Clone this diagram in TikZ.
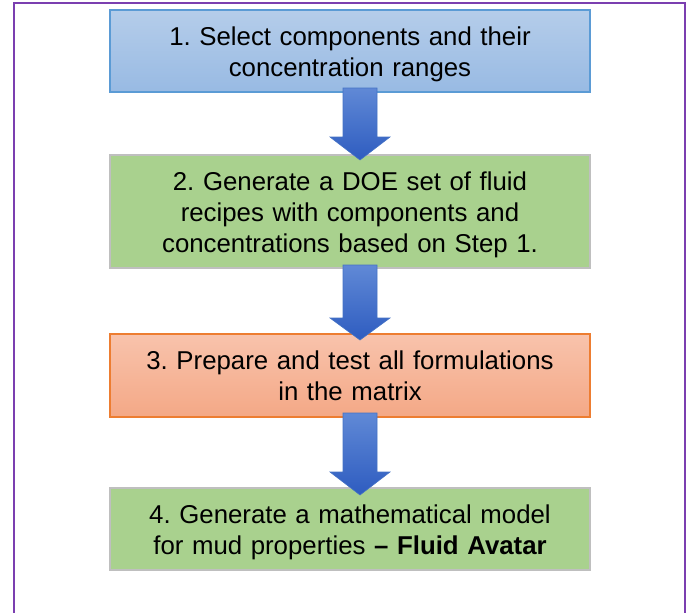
\documentclass[tikz,border=0pt]{standalone}
\usepackage{fontspec}
\setmainfont{Liberation Sans}
\frenchspacing
\begin{document}
\begin{tikzpicture}[x=1pt,y=-1pt]
\definecolor{frame}{HTML}{7B3FB0}
\definecolor{bluetop}{HTML}{B5CDEA}
\definecolor{bluebot}{HTML}{98BAE3}
\definecolor{blueedge}{HTML}{5B9BD5}
\definecolor{greenfill}{HTML}{A9D18E}
\definecolor{greyedge}{HTML}{BFBFBF}
\definecolor{orangetop}{HTML}{F8C3AC}
\definecolor{orangebot}{HTML}{F4A886}
\definecolor{orangeedge}{HTML}{ED7D31}
\definecolor{arrowtop}{HTML}{6089D6}
\definecolor{arrowbot}{HTML}{2E5CC0}
\definecolor{arrowedge}{HTML}{4472C4}
\tikzset{
  stepbox/.style={minimum width=480pt, inner sep=0pt, line width=1.2pt},
  steptext/.style={text width=470pt, align=center, inner sep=0pt,
    font=\fontsize{25.8}{31}\selectfont},
  bluebox/.style={stepbox, draw=blueedge, top color=bluetop, bottom color=bluebot},
  greenbox/.style={stepbox, draw=greyedge, fill=greenfill},
  orangebox/.style={stepbox, draw=orangeedge, top color=orangetop, bottom color=orangebot},
  blockarrow/.style={draw=arrowedge, line width=0.6pt, top color=arrowtop, bottom color=arrowbot}
}
\useasboundingbox (0,0) rectangle (691,613);
% outer frame (its lower edge runs off the page)
\draw[frame, line width=2.4pt] (14,640) -- (14,3) -- (685,3) -- (685,640);

% process steps
\node[bluebox, minimum height=82pt] (s1) at (350,51) {};
\node[steptext] (t1) at ([yshift=-3pt]s1.center)
  {1. Select components and their\\concentration ranges};
\node[greenbox, minimum height=113pt] (s2) at (350,211.5) {};
\node[steptext] (t2) at ([yshift=-3pt]s2.center)
  {2. Generate a DOE set of fluid\\recipes with components and\\concentrations based on Step 1.};
\node[orangebox, minimum height=83pt] (s3) at (350,375.5) {};
\node[steptext] (t3) at (s3.center)
  {3. Prepare and test all formulations\\in the matrix};
\node[greenbox, minimum height=82pt] (s4) at (350,529) {};
\node[steptext] (t4) at ([yshift=-3pt]s4.center)
  {4. Generate a mathematical model\\for mud properties \textbf{– Fluid Avatar}};

% block arrows between steps: shaft top, head start, tip
\newcommand{\blockdown}[3]{%
  \shade[blockarrow] (343,#1) -- (377,#1) -- (377,#2) -- (390,#2) -- (360,#3)
    -- (330,#2) -- (343,#2) -- cycle;}
\blockdown{88}{137}{160}
\blockdown{265}{318}{340}
\blockdown{413}{472}{495}
\end{tikzpicture}
\end{document}
